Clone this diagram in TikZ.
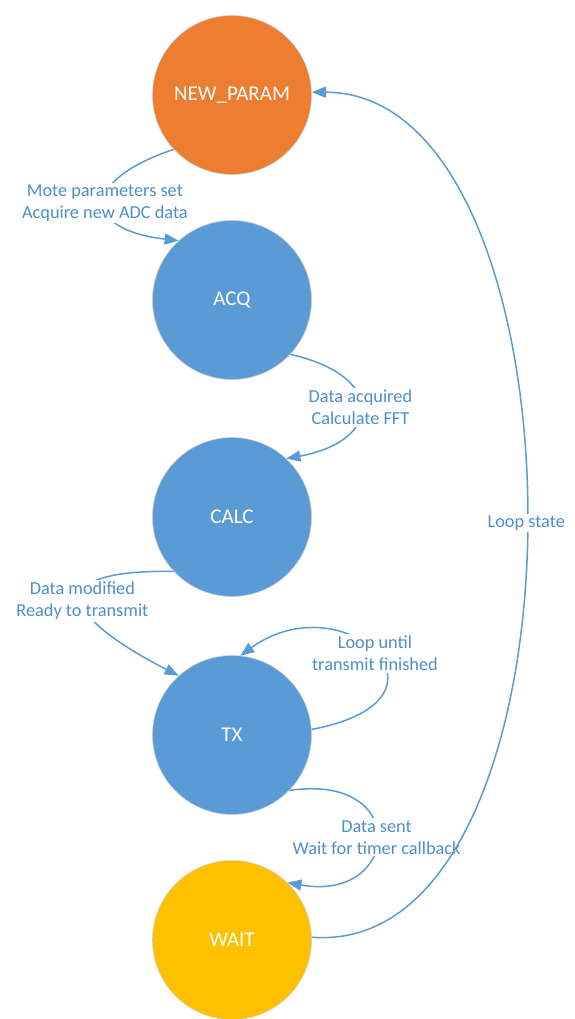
\documentclass[tikz,border=0pt]{standalone}
\usepackage{fontspec}
\setmainfont{Carlito}
\usepackage{tikz}
\usetikzlibrary{arrows.meta}
\definecolor{linkblue}{HTML}{5B9BD5}
\definecolor{stateblue}{HTML}{5B9BD5}
\definecolor{stateorange}{HTML}{ED7D31}
\definecolor{stateyellow}{HTML}{FFC000}
\definecolor{labelblue}{HTML}{4E8ECB}

\begin{document}
\begin{tikzpicture}[x=1pt,y=1pt]
  \useasboundingbox (0,0) rectangle (575,1019);

  \begin{scope}[every node/.style={circle,draw=black!20,line width=0.6pt,minimum size=159pt,
      inner sep=0pt,text=white,font=\fontsize{21}{25}\selectfont}]
      \node[fill=stateorange] (newparam) at (232,924) {NEW\_PARAM};
      \node[fill=stateblue] (acq) at (232,719) {ACQ};
      \node[fill=stateblue] (calc) at (232,502) {CALC};
      \node[fill=stateblue] (tx) at (232,284) {TX};
      \node[fill=stateyellow] (wait) at (232,79) {WAIT};
  \end{scope}

  \tikzset{flow arc/.style={-{Triangle[length=14pt,width=11pt]}, linkblue, line width=1.5pt},
           arc label/.style={fill=white, align=center, inner sep=2pt, text=labelblue,
             font=\fontsize{18.3}{22}\selectfont}}

  \draw[flow arc] (newparam.223) .. controls +(-95,-32) and +(-95,11) .. (acq.132)
      node[arc label,pos=0.5] {Mote parameters set\\Acquire new ADC data};

  \draw[flow arc] (acq.317) .. controls +(95,-21) and +(97,18) .. (calc.47)
      node[arc label,pos=0.5] {Data acquired\\Calculate FFT};

  \draw[flow arc] (calc.223) .. controls +(-135,2) and +(-115,59) .. (tx.132)
      node[arc label,pos=0.5] {Data modified\\Ready to transmit};

  \draw[flow arc] (tx.4) .. controls +(160,30) and +(104,75) .. (tx.84)
      node[arc label,pos=0.5] {Loop until\\transmit finished};

  \draw[flow arc] (tx.316) .. controls +(122,18) and +(113,-20) .. (wait.46)
      node[arc label,pos=0.5] {Data sent\\Wait for timer callback};

  \draw[flow arc] (wait.2) .. controls +(288,-22) and +(284,0) .. (newparam.2)
      node[arc label,pos=0.5] {Loop state};

\end{tikzpicture}
\end{document}
